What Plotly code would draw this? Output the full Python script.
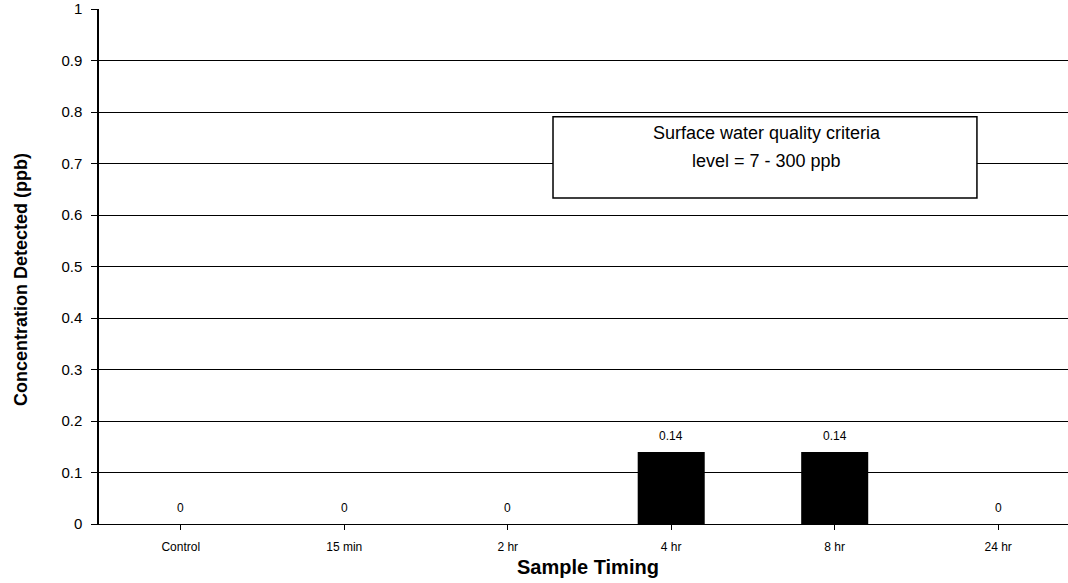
import plotly.graph_objects as go

categories = ["Control", "15 min", "2 hr", "4 hr", "8 hr", "24 hr"]
values = [0, 0, 0, 0.14, 0.14, 0]
labels = ["0", "0", "0", "0.14", "0.14", "0"]
y_ticks = [0, 0.1, 0.2, 0.3, 0.4, 0.5, 0.6, 0.7, 0.8, 0.9, 1]
y_tick_text = ["0", "0.1", "0.2", "0.3", "0.4", "0.5", "0.6", "0.7", "0.8", "0.9", "1"]
note_lines = ["Surface water quality criteria", "level = 7 - 300 ppb"]
x_title = "Sample Timing"
y_title = "Concentration Detected (ppb)"

FONT = "Liberation Sans, Arial"
W, H = 1068, 583
ML, MR, MT, MB = 99, 0, 9, 59

fig = go.Figure()
fig.add_trace(go.Bar(
    x=list(range(len(categories))), y=values,
    marker=dict(color="black", line=dict(width=0)),
    width=0.41,
))

# value labels above each bar
for i, (v, t) in enumerate(zip(values, labels)):
    fig.add_annotation(xref="x", yref="y", x=i, y=v, text=t, showarrow=False,
                       yanchor="middle", yshift=16,
                       font=dict(size=12, color="black", family=FONT))

fig.update_layout(
    width=W, height=H,
    margin=dict(l=ML, r=MR, t=MT, b=MB),
    paper_bgcolor="white", plot_bgcolor="white",
    showlegend=False,
    font=dict(family=FONT, color="black"),
    xaxis=dict(
        range=[-0.5, 5.427],
        tickvals=list(range(len(categories))), ticktext=categories,
        ticks="outside", ticklen=5, tickcolor="black",
        tickson="boundaries", ticklabelstandoff=7,
        tickfont=dict(size=12),
        showgrid=False, showline=True, linecolor="black", linewidth=1,
    ),
    yaxis=dict(
        range=[0, 1], tickvals=y_ticks, ticktext=y_tick_text,
        ticks="outside", ticklen=6, tickcolor="black",
        ticklabelstandoff=6,
        tickfont=dict(size=15),
        showgrid=True, gridcolor="black", gridwidth=1,
        showline=True, linecolor="black", linewidth=1.5,
        zeroline=False,
    ),
)

# axis titles
fig.add_annotation(xref="paper", yref="paper",
                   x=(588 - ML) / (W - ML - MR), y=(H - MB - 567) / (H - MT - MB),
                   text="<b>" + x_title + "</b>", showarrow=False,
                   xanchor="center", yanchor="middle",
                   font=dict(size=20, color="black", family=FONT))
fig.add_annotation(xref="paper", yref="paper",
                   x=(21 - ML) / (W - ML - MR), y=(H - MB - 280) / (H - MT - MB),
                   text="<b>" + y_title + "</b>", showarrow=False, textangle=-90,
                   xanchor="center", yanchor="middle",
                   font=dict(size=18, color="black", family=FONT))

# note box
fig.add_shape(type="rect", xref="x", yref="y", x0=2.277, x1=4.870, y0=0.633, y1=0.791,
              line=dict(color="black", width=1.5), fillcolor="white", layer="above")
for k, (line, yv) in enumerate(zip(note_lines, [0.760, 0.704])):
    fig.add_annotation(xref="x", yref="y", x=3.585, y=yv, text=line, showarrow=False,
                       xanchor="center", yanchor="middle",
                       font=dict(size=18, color="black", family=FONT))

fig.write_html("out.html")
